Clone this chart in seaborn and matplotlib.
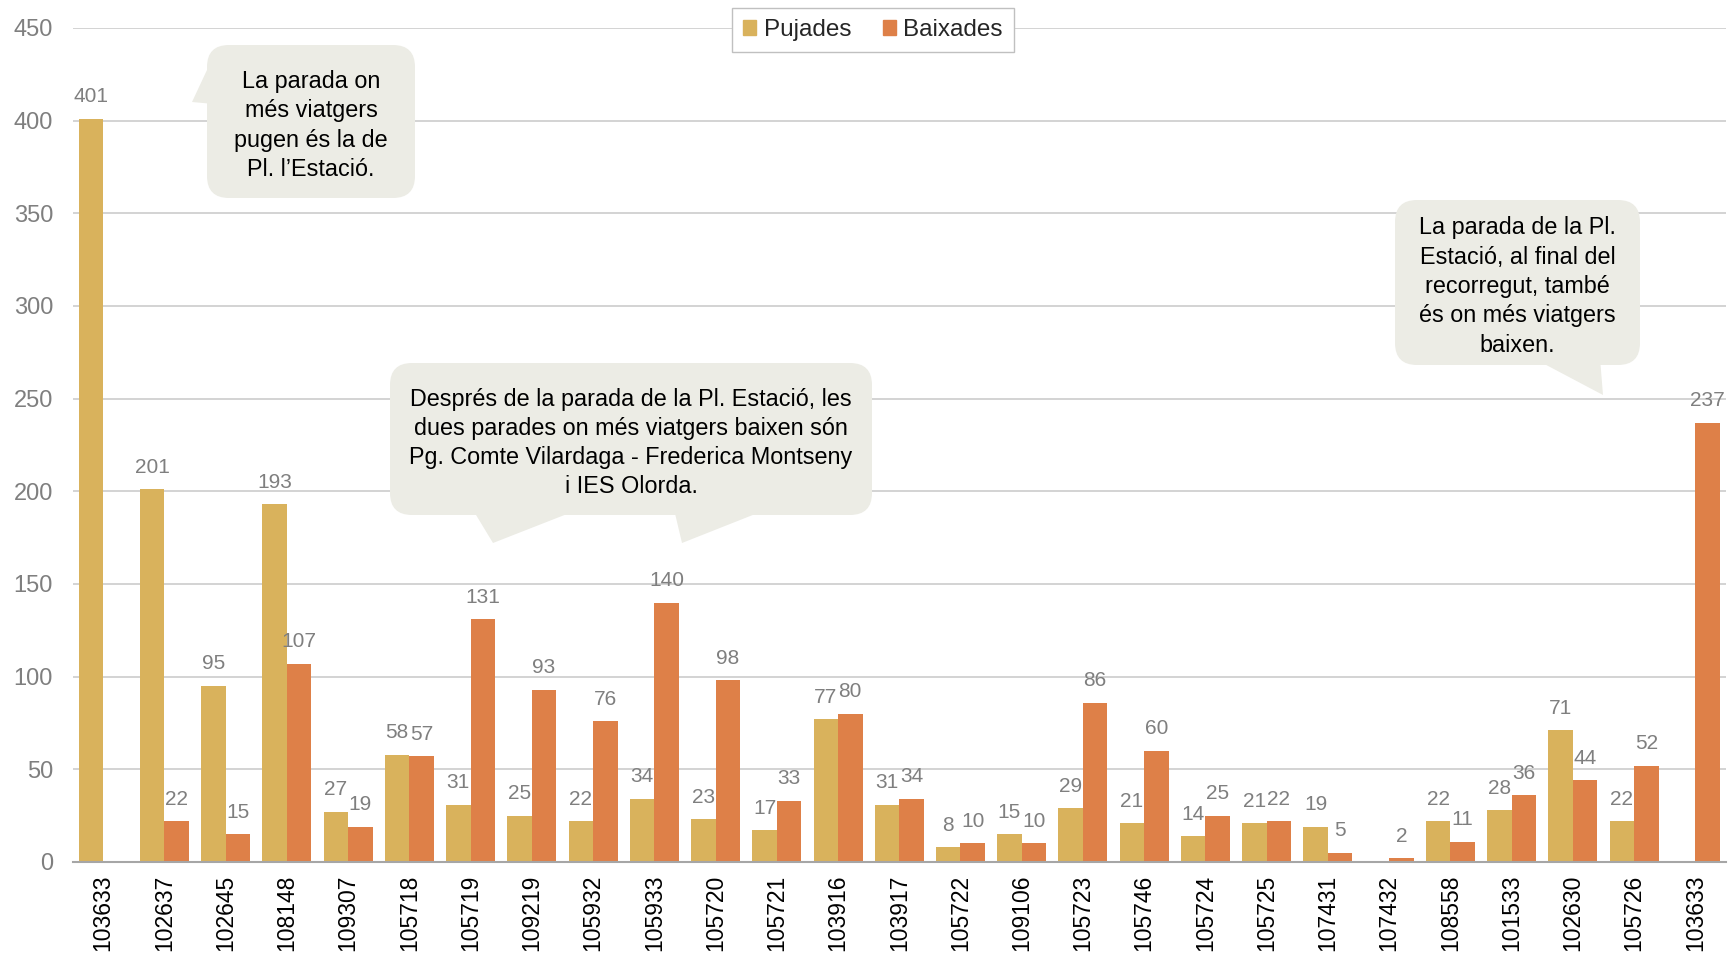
import numpy as np
import pandas as pd
import matplotlib
matplotlib.use('Agg')
import matplotlib.pyplot as plt
import seaborn as sns
from matplotlib.patches import FancyBboxPatch, Polygon, Patch
from matplotlib.transforms import Affine2D

# Data (stop codes in route order)
stops = ['103633', '102637', '102645', '108148', '109307', '105718', '105719',
         '109219', '105932', '105933', '105720', '105721', '103916', '103917',
         '105722', '109106', '105723', '105746', '105724', '105725', '107431',
         '107432', '108558', '101533', '102630', '105726', '103633']
pujades = [401, 201, 95, 193, 27, 58, 31, 25, 22, 34, 23, 17, 77, 31, 8, 15,
           29, 21, 14, 21, 19, np.nan, 22, 28, 71, 22, np.nan]
baixades = [np.nan, 22, 15, 107, 19, 57, 131, 93, 76, 140, 98, 33, 80, 34, 10,
            10, 86, 60, 25, 22, 5, 2, 11, 36, 44, 52, 237]
series = ['Pujades', 'Baixades']
y_ticks = list(range(0, 451, 50))

gold = '#D9B25C'
orange = '#DE8048'
bubble_bg = '#ECECE5'

# long format for seaborn
pos = list(range(len(stops)))
df = pd.DataFrame({
    'pos': pos * 2,
    'serie': ['Pujades'] * len(stops) + ['Baixades'] * len(stops),
    'valor': pujades + baixades,
})

sns.set_style('white')
plt.rcParams['font.family'] = ['Liberation Sans', 'DejaVu Sans']

W, H = 1728, 966
fig = plt.figure(figsize=(W / 100, H / 100), dpi=100)
ax = fig.add_axes([72.5 / W, (H - 862) / H, (1726 - 72.5) / W, (862 - 28) / H])

sns.barplot(data=df, x='pos', y='valor', hue='serie', hue_order=series,
            palette={'Pujades': gold, 'Baixades': orange}, width=0.8, gap=0,
            saturation=1, linewidth=0, legend=False, ax=ax)

for cont in ax.containers:
    ax.bar_label(cont, fmt=lambda v: '' if np.isnan(v) else f'{v:.0f}',
                 padding=9, fontsize=15, color='#7F7F7F')

ax.set_ylim(0, 450)
ax.set_yticks(y_ticks)
ax.set_xticks(pos)
ax.set_xticklabels(stops, rotation=90)
ax.set_xlabel('')
ax.set_ylabel('')
ax.tick_params(axis='y', length=0, pad=14, labelsize=17, labelcolor='#7F7F7F')
ax.tick_params(axis='x', length=0, pad=9, labelsize=16.5, labelcolor='#000000')
ax.yaxis.grid(True, color='#C8C8C8', linewidth=1.1)
ax.set_axisbelow(True)
for s in ['left', 'top', 'right']:
    ax.spines[s].set_visible(False)
ax.spines['bottom'].set_color('#A6A6A6')
ax.spines['bottom'].set_linewidth(1.5)

ax.legend(handles=[Patch(color=gold, label='Pujades'), Patch(color=orange, label='Baixades')],
          loc='upper center', bbox_to_anchor=(873 / W, 1 - 8 / H), bbox_transform=fig.transFigure,
          ncol=2, fontsize=17.5, frameon=True, fancybox=False, edgecolor='#C0C0C0',
          framealpha=1, borderaxespad=0, handlelength=0.55, handleheight=0.55,
          handletextpad=0.3, columnspacing=1.3, borderpad=0.45)

# figure pixel coordinates (origin top-left)
px = Affine2D().scale(1 / W, -1 / H).translate(0, 1) + fig.transFigure


def bubble(x0, y0, x1, y1, tails, text):
    box = FancyBboxPatch((x0, y0), x1 - x0, y1 - y0,
                         boxstyle='round,pad=0,rounding_size=22',
                         transform=px, fc=bubble_bg, ec='none', zorder=2)
    fig.patches.append(box)
    for t in tails:
        fig.patches.append(Polygon(t, closed=True, transform=px, fc=bubble_bg,
                                   ec='none', zorder=2))
    fig.text((x0 + x1) / 2, (y0 + y1) / 2 + 4, text, transform=px, ha='center',
             va='center', fontsize=16.8, linespacing=1.35, color='#000000', zorder=3)


bubble(207, 45, 415, 198, [[(214, 55), (192, 102), (214, 104)]],
       'La parada on\nmés viatgers\npugen és la de\nPl. l\u2019Estació.')
bubble(390, 363, 872, 515,
       [[(470, 505), (493, 543), (590, 505)], [(673, 505), (682, 543), (778, 505)]],
       'Després de la parada de la Pl. Estació, les\ndues parades on més viatgers baixen són\n'
       'Pg. Comte Vilardaga - Frederica Montseny\ni IES Olorda.')
bubble(1395, 200, 1640, 365, [[(1533, 358), (1603, 395), (1600, 358)]],
       'La parada de la Pl.\nEstació, al final del\nrecorregut, també\nés on més viatgers\nbaixen.')

fig.savefig('out.png', dpi=100)
